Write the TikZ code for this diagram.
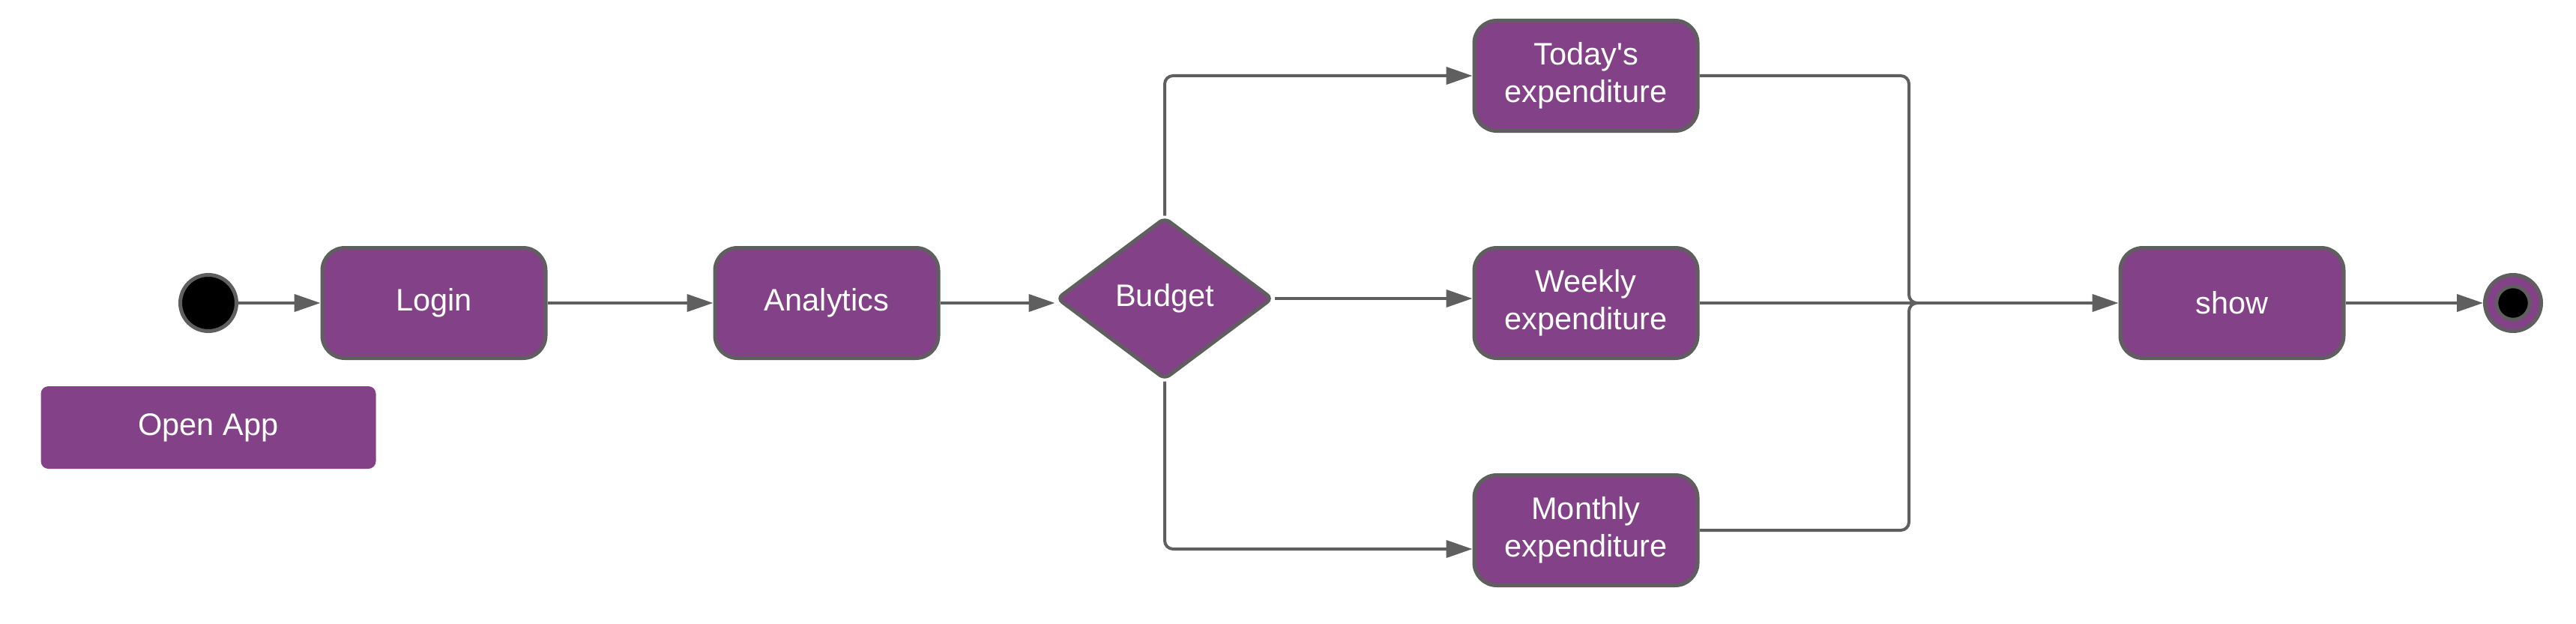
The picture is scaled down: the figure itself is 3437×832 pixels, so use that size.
\documentclass[tikz,border=0pt]{standalone}
\usepackage{fontspec}
\setmainfont{Liberation Sans}
\newfontfamily\plainsf{Liberation Sans}
\usetikzlibrary{arrows.meta,shapes.geometric}
\definecolor{umlpurple}{RGB}{131,66,135}
\definecolor{umlgray}{RGB}{95,95,95}
\tikzset{
  statebox/.style={draw=umlgray, line width=5pt, fill=umlpurple, rounded corners=30pt,
    minimum width=298pt, minimum height=147pt, text=white, align=center,
    font=\plainsf\fontsize{41.5}{50}\selectfont, inner sep=0pt},
  notebox/.style={fill=umlpurple, rounded corners=10pt, minimum width=447pt, minimum height=110pt,
    text=white, font=\plainsf\fontsize{41.5}{50}\selectfont, inner sep=0pt},
  decision/.style={diamond, draw=umlgray, line width=5pt, fill=umlpurple, rounded corners=8pt,
    minimum width=288pt, minimum height=216pt, inner sep=0pt, text=white,
    font=\plainsf\fontsize{41.5}{50}\selectfont},
  startdot/.style={circle, draw=umlgray, line width=5pt, fill=black, minimum size=75pt, inner sep=0pt},
  endring/.style={circle, draw=umlgray, line width=5pt, fill=umlpurple, minimum size=75pt, inner sep=0pt},
  enddot/.style={circle, draw=umlgray, line width=4.5pt, fill=black, minimum size=44pt, inner sep=0pt},
  flow/.style={draw=umlgray, line width=4pt, -{Triangle[length=35pt,width=23pt]}},
  link/.style={draw=umlgray, line width=4pt, rounded corners=11pt}
}
\begin{document}
\begin{tikzpicture}[x=1pt,y=-1pt]
\useasboundingbox (0,0) rectangle (3437,832);
\node[startdot] (start) at (278,404) {};
\node[statebox] (login) at (579,404) {Login};
\node[notebox] (open) at (278,570) {Open App};
\node[statebox] (analytics) at (1103,404) {Analytics};
\node[decision] (budget) at (1554,398) {Budget};
\node[statebox] (today) at (2116,101) {Today's\\expenditure};
\node[statebox] (weekly) at (2116,404) {Weekly\\expenditure};
\node[statebox] (monthly) at (2116,707) {Monthly\\expenditure};
\node[statebox] (show) at (2978,404) {show};
\node[endring] (finish) at (3353,404) {};
\node[enddot] (finishdot) at (3353,404) {};
\coordinate (merge) at (2547,404);

\draw[flow] (start) -- (login);
\draw[flow] (login) -- (analytics);
\draw[flow] (analytics.east) -- (analytics.east -| budget.west);
\draw[flow, rounded corners=11pt] (budget.north) |- (today.west);
\draw[flow] (budget.east) -- (budget.east -| weekly.west);
\draw[flow, rounded corners=11pt] (budget.south) |- ([yshift=-25pt]monthly.west);
\draw[link] (today.east) -| (merge) -- ([xshift=10pt]merge);
\draw[link] (monthly.east) -| (merge) -- ([xshift=10pt]merge);
\draw[flow] (weekly.east) -- (weekly.east -| show.west);
\draw[flow] (show) -- (finish);
\end{tikzpicture}
\end{document}
